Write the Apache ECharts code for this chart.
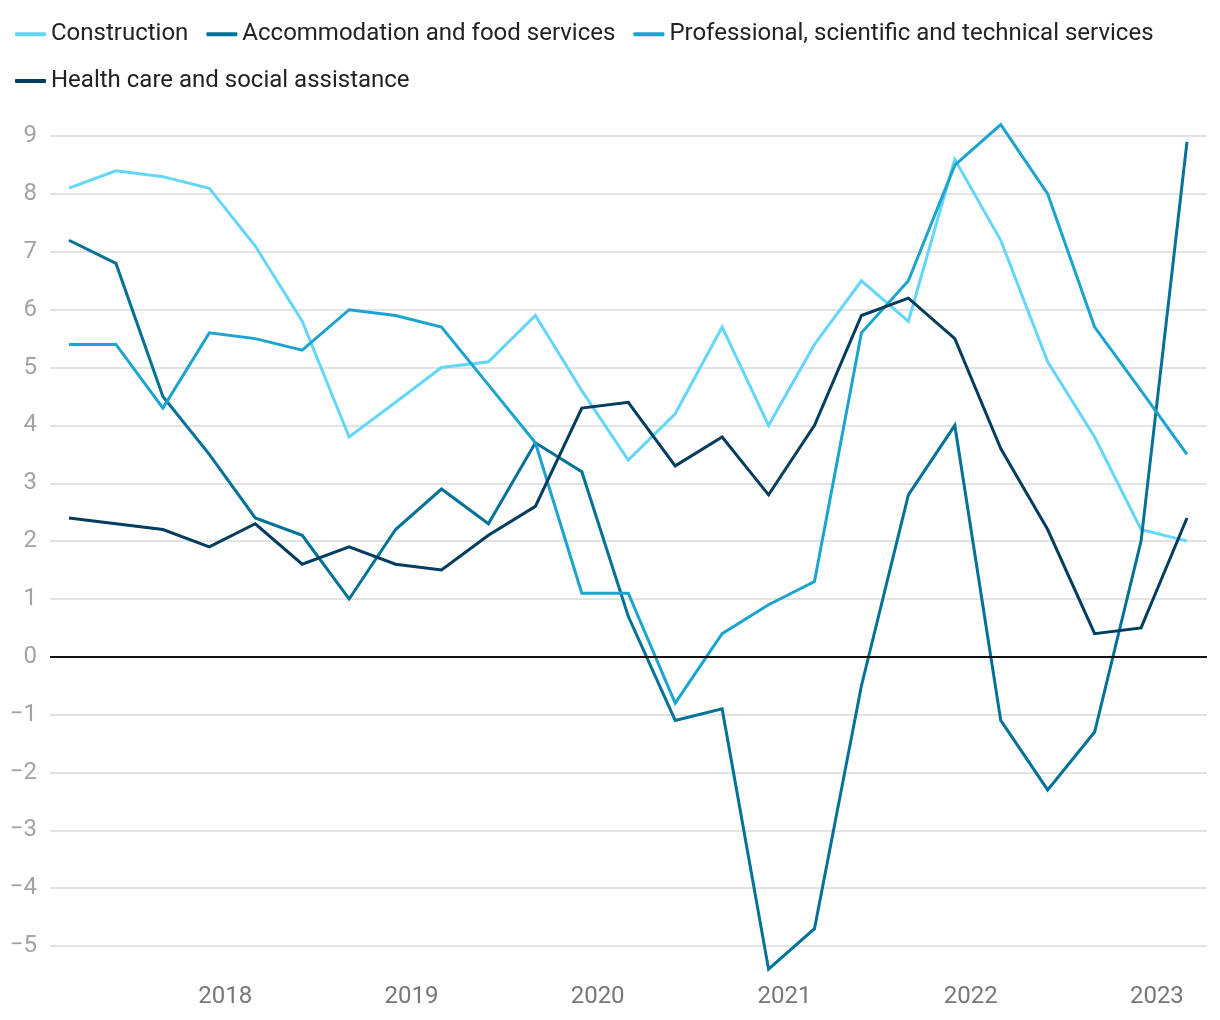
<!DOCTYPE html>
<html>
<head>
<meta charset="utf-8">
<script src="https://cdn.jsdelivr.net/npm/echarts@6/dist/echarts.min.js"></script>
<style>
html,body{margin:0;padding:0;background:#fff;}
#chart{width:1220px;height:1020px;}
</style>
</head>
<body>
<div id="chart"></div>
<script>
// Quarterly observation dates
var dates = ['2017-03-01','2017-06-01','2017-09-01','2017-12-01',
             '2018-03-01','2018-06-01','2018-09-01','2018-12-01',
             '2019-03-01','2019-06-01','2019-09-01','2019-12-01',
             '2020-03-01','2020-06-01','2020-09-01','2020-12-01',
             '2021-03-01','2021-06-01','2021-09-01','2021-12-01',
             '2022-03-01','2022-06-01','2022-09-01','2022-12-01',
             '2023-03-01'];
var seriesNames = ['Construction','Accommodation and food services','Professional, scientific and technical services','Health care and social assistance'];
var construction = [8.1,8.4,8.3,8.1,7.1,5.8,3.8,4.4,5.0,5.1,5.9,4.6,3.4,4.2,5.7,4.0,5.4,6.5,5.8,8.6,7.2,5.1,3.8,2.2,2.0];
var accommodation = [7.2,6.8,4.5,3.5,2.4,2.1,1.0,2.2,2.9,2.3,3.7,3.2,0.7,-1.1,-0.9,-5.4,-4.7,-0.5,2.8,4.0,-1.1,-2.3,-1.3,2.0,8.9];
var professional = [5.4,5.4,4.3,5.6,5.5,5.3,6.0,5.9,5.7,4.7,3.7,1.1,1.1,-0.8,0.4,0.9,1.3,5.6,6.5,8.5,9.2,8.0,5.7,4.6,3.5];
var health = [2.4,2.3,2.2,1.9,2.3,1.6,1.9,1.6,1.5,2.1,2.6,4.3,4.4,3.3,3.8,2.8,4.0,5.9,6.2,5.5,3.6,2.2,0.4,0.5,2.4];
var yearLabels = [2018,2019,2020,2021,2022,2023];

var colors = ['#63d6fa','#007298','#1ba4d0','#003d5f'];
var values = [construction, accommodation, professional, health];

function toTime(s){ var p = s.split('-'); return Date.UTC(+p[0], +p[1]-1, +p[2]); }
var times = dates.map(toTime);
var span = times[times.length-1] - times[0];

var series = values.map(function(arr, k){
  var s = {
    name: seriesNames[k],
    type: 'line',
    data: arr.map(function(v,i){ return [times[i], v]; }),
    showSymbol: false,
    symbol: 'none',
    lineStyle: { color: colors[k], width: 3, join: 'miter' },
    itemStyle: { color: colors[k] },
    emphasis: { disabled: true },
    z: 3
  };
  if (k === 0) {
    s.markLine = {
      silent: true,
      symbol: ['none','none'],
      label: { show: false },
      lineStyle: { color: '#111', width: 2, type: 'solid' },
      emphasis: { disabled: true },
      data: [{ yAxis: 0 }]
    };
  }
  return s;
});

var chart = echarts.init(document.getElementById('chart'), null, {renderer:'canvas'});
chart.setOption({
  animation: false,
  backgroundColor: '#fff',
  textStyle: { fontFamily: 'Roboto' },
  legend: {
    left: 10,
    top: 15,
    right: 10,
    itemWidth: 31,
    itemHeight: 4,
    itemGap: 18,
    icon: 'roundRect',
    textStyle: { fontSize: 24, color: '#222', fontFamily: 'Roboto', lineHeight: 28.6 },
    data: seriesNames.map(function(n,k){ return { name: n, itemStyle: { color: colors[k] } }; })
  },
  grid: { left: 50, right: 13, top: 113, bottom: 45 },
  xAxis: {
    type: 'value',
    min: times[0] - span * 0.017,
    max: times[times.length-1] + span * 0.0179,
    axisLine: { show: false },
    axisTick: { show: false },
    splitLine: { show: false },
    axisLabel: {
      customValues: yearLabels.map(function(y){ return Date.UTC(y,0,1); }),
      formatter: function(v){ return String(new Date(v).getUTCFullYear()); },
      fontSize: 24,
      color: '#777',
      fontFamily: 'Roboto',
      margin: 10
    }
  },
  yAxis: {
    type: 'value',
    min: -5.5,
    max: 9.4,
    splitNumber: 15,
    minInterval: 1,
    maxInterval: 1,
    axisLine: { show: false },
    axisTick: { show: false },
    axisLabel: {
      showMinLabel: false,
      showMaxLabel: false,
      fontSize: 24,
      color: '#a3a3a3',
      fontFamily: 'Roboto',
      margin: 13,
      formatter: function(v){ return v < 0 ? '\u2212' + Math.abs(v) : String(v); }
    },
    splitLine: { show: true, showMinLine: false, showMaxLine: false, lineStyle: { color: '#e3e3e3', width: 2 } }
  },
  series: series
});
</script>
</body>
</html>
